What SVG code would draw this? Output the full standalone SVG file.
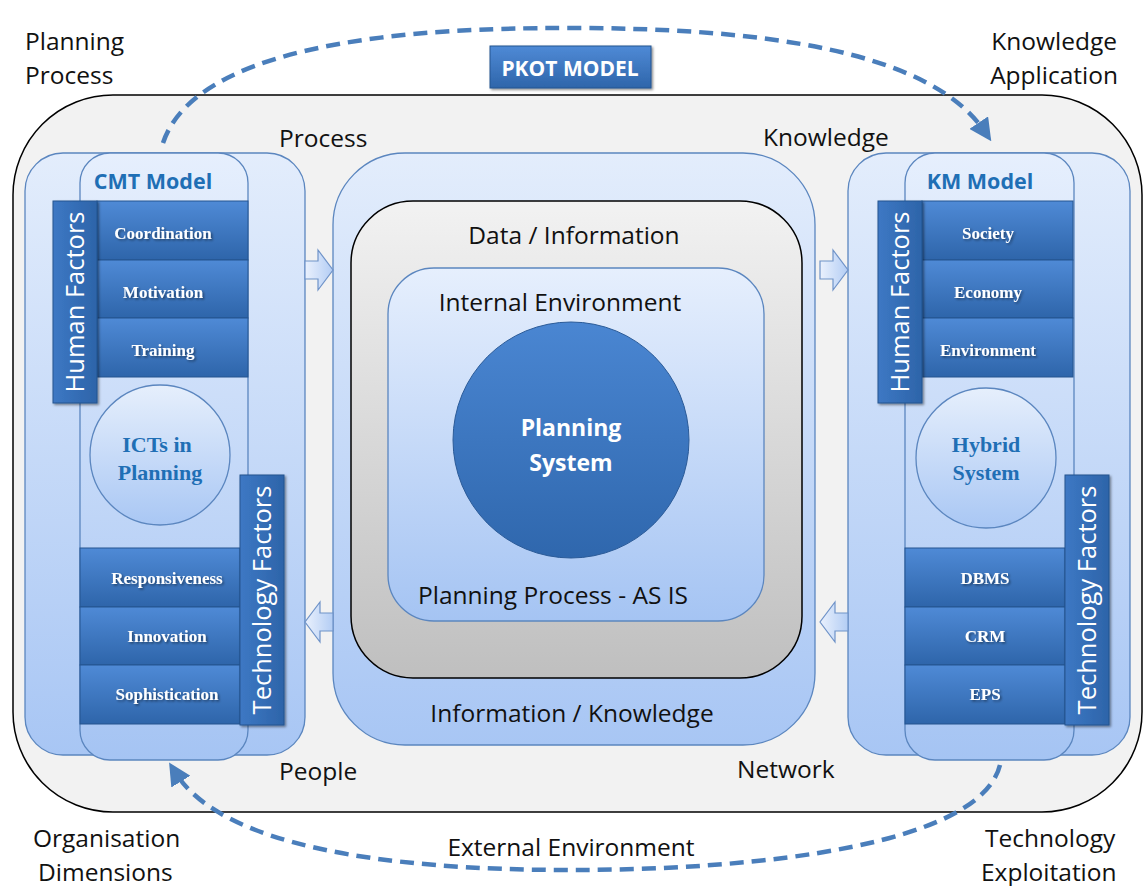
<svg xmlns="http://www.w3.org/2000/svg" width="1145" height="886" viewBox="0 0 1145 886">
<defs>
<linearGradient id="gPanel" x1="0" y1="0" x2="0" y2="1"><stop offset="0" stop-color="#e3edfc"/><stop offset="1" stop-color="#a8c6f4"/></linearGradient>
<linearGradient id="gInner" x1="0" y1="0" x2="0" y2="1"><stop offset="0" stop-color="#e6effd"/><stop offset="1" stop-color="#a5c4f3"/></linearGradient>
<linearGradient id="gGray" x1="0" y1="0" x2="0" y2="1"><stop offset="0" stop-color="#f2f2f2"/><stop offset="1" stop-color="#bfbfbf"/></linearGradient>
<linearGradient id="gBar" x1="0" y1="0" x2="0" y2="1"><stop offset="0" stop-color="#4f8ad6"/><stop offset="1" stop-color="#2e65aa"/></linearGradient>
<linearGradient id="gBarV" x1="0" y1="0" x2="1" y2="0"><stop offset="0" stop-color="#3d78c4"/><stop offset="1" stop-color="#2d64a9"/></linearGradient>
<linearGradient id="gCircle" x1="0" y1="0" x2="0" y2="1"><stop offset="0" stop-color="#4a86d2"/><stop offset="1" stop-color="#2f67ad"/></linearGradient>
<linearGradient id="gSmall" x1="0" y1="0" x2="0" y2="1"><stop offset="0" stop-color="#e6effc"/><stop offset="1" stop-color="#a9c7f4"/></linearGradient>
<linearGradient id="gArrow" x1="0" y1="0" x2="1" y2="0"><stop offset="0" stop-color="#eaf1fd"/><stop offset="1" stop-color="#b3cdf4"/></linearGradient>
<filter id="sh" x="-10%" y="-10%" width="130%" height="130%"><feDropShadow dx="1.5" dy="1.5" stdDeviation="1.2" flood-color="#000" flood-opacity="0.45"/></filter>
<marker id="ah" viewBox="0 0 10 10" refX="5" refY="5" markerWidth="5" markerHeight="5" orient="auto"><path d="M0,0 L10,5 L0,10 z" fill="#4a7ebb"/></marker>
</defs>
<style>
.lbl{font-family:"Open Sans","Liberation Sans",sans-serif;font-size:24.5px;fill:#111}
.row{font-family:"Liberation Serif",serif;font-weight:bold;font-size:17px;fill:#fff;text-anchor:middle;filter:url(#sh)}
.vert{font-family:"Open Sans","Liberation Sans",sans-serif;font-size:25.5px;fill:#fff;text-anchor:middle}
.model{font-family:"Open Sans","Liberation Sans",sans-serif;font-weight:bold;font-size:21.5px;fill:#1f6fb5;text-anchor:middle}
.circ{font-family:"Liberation Serif",serif;font-weight:bold;font-size:22px;fill:#1f6fb5;text-anchor:middle}
.panel{stroke:#5b86bf;stroke-width:1.3}
.bar{fill:url(#gBar);stroke:#24548f;stroke-width:1}
.vbar{fill:url(#gBarV);stroke:#24548f;stroke-width:1;filter:url(#sh)}
.dash{fill:none;stroke:#4a7ebb;stroke-width:4.5;stroke-dasharray:14 8}
.arr{fill:url(#gArrow);stroke:#6f93c8;stroke-width:1.2}
</style>

<!-- outer boundary -->
<g id="outer">
<rect x="13" y="95" width="1129" height="717" rx="100" fill="#f2f2f2" stroke="#000" stroke-width="1.5"/>
</g>

<!-- left panel -->
<g id="left-panel">
<rect class="panel" x="25" y="153" width="280" height="602" rx="38" fill="url(#gPanel)"/>
<rect class="panel" x="80" y="153" width="168" height="607" rx="30" fill="url(#gInner)"/>
<text class="model" x="153" y="189">CMT Model</text>
</g>
<g id="left-human">
<rect class="bar" x="97" y="201" width="151" height="59"/>
<rect class="bar" x="97" y="260" width="151" height="58"/>
<rect class="bar" x="97" y="318" width="151" height="59"/>
<text class="row" x="163" y="239">Coordination</text>
<text class="row" x="163" y="298">Motivation</text>
<text class="row" x="163" y="356">Training</text>
<rect class="vbar" x="53" y="201" width="44" height="202"/>
<text class="vert" transform="translate(84,302) rotate(-90)">Human Factors</text>
</g>
<g id="left-ict">
<circle cx="160" cy="455" r="70" fill="url(#gSmall)" stroke="#5b86bf" stroke-width="1.3"/>
<text class="circ" x="157" y="452">ICTs in</text>
<text class="circ" x="160" y="480">Planning</text>
</g>
<g id="left-tech">
<rect class="bar" x="80" y="548" width="160" height="59"/>
<rect class="bar" x="80" y="607" width="160" height="58"/>
<rect class="bar" x="80" y="665" width="160" height="59"/>
<text class="row" x="167" y="584">Responsiveness</text>
<text class="row" x="167" y="642">Innovation</text>
<text class="row" x="167" y="700">Sophistication</text>
<rect class="vbar" x="240" y="475" width="44" height="250"/>
<text class="vert" transform="translate(271,600) rotate(-90)">Technology Factors</text>
</g>

<!-- center panel -->
<g id="center-panel">
<rect class="panel" x="333" y="153" width="482" height="592" rx="72" fill="url(#gPanel)"/>
<text class="lbl" x="572" y="722" text-anchor="middle">Information / Knowledge</text>
</g>
<g id="data-info">
<rect x="351" y="201" width="451" height="477" rx="62" fill="url(#gGray)" stroke="#000" stroke-width="1.5"/>
<text class="lbl" x="574" y="244" text-anchor="middle" font-size="26">Data / Information</text>
</g>
<g id="internal-env">
<rect x="388" y="268" width="376" height="353" rx="46" fill="url(#gInner)" stroke="#5b86bf" stroke-width="1.3"/>
<text class="lbl" x="560" y="311" text-anchor="middle">Internal Environment</text>
<text class="lbl" x="553" y="604" text-anchor="middle">Planning Process - AS IS</text>
</g>
<g id="planning-system">
<circle cx="571" cy="440" r="118" fill="url(#gCircle)" stroke="#2b5b98" stroke-width="1"/>
<text x="571" y="436" text-anchor="middle" font-family="Open Sans, Liberation Sans, sans-serif" font-weight="bold" font-size="23" fill="#fff">Planning</text>
<text x="571" y="471" text-anchor="middle" font-family="Open Sans, Liberation Sans, sans-serif" font-weight="bold" font-size="23" fill="#fff">System</text>
</g>

<!-- right panel -->
<g id="right-panel">
<rect class="panel" x="848" y="153" width="282" height="602" rx="38" fill="url(#gPanel)"/>
<rect class="panel" x="905" y="153" width="169" height="607" rx="30" fill="url(#gInner)"/>
<text class="model" x="980" y="189">KM Model</text>
</g>
<g id="right-human">
<rect class="bar" x="922" y="201" width="151" height="59"/>
<rect class="bar" x="922" y="260" width="151" height="58"/>
<rect class="bar" x="922" y="318" width="151" height="59"/>
<text class="row" x="988" y="239">Society</text>
<text class="row" x="988" y="298">Economy</text>
<text class="row" x="988" y="356">Environment</text>
<rect class="vbar" x="878" y="201" width="44" height="202"/>
<text class="vert" transform="translate(909,302) rotate(-90)">Human Factors</text>
</g>
<g id="right-hybrid">
<circle cx="986" cy="458" r="70" fill="url(#gSmall)" stroke="#5b86bf" stroke-width="1.3"/>
<text class="circ" x="986" y="452">Hybrid</text>
<text class="circ" x="986" y="480">System</text>
</g>
<g id="right-tech">
<rect class="bar" x="905" y="548" width="160" height="59"/>
<rect class="bar" x="905" y="607" width="160" height="58"/>
<rect class="bar" x="905" y="665" width="160" height="59"/>
<text class="row" x="985" y="584">DBMS</text>
<text class="row" x="985" y="642">CRM</text>
<text class="row" x="985" y="700">EPS</text>
<rect class="vbar" x="1065" y="475" width="44" height="250"/>
<text class="vert" transform="translate(1096,600) rotate(-90)">Technology Factors</text>
</g>

<!-- title -->
<g id="title">
<rect x="490" y="46" width="161" height="42" fill="url(#gBar)" stroke="#24548f" filter="url(#sh)"/>
<text x="570" y="76" text-anchor="middle" font-family="Open Sans, Liberation Sans, sans-serif" font-weight="bold" font-size="21" fill="#fff">PKOT MODEL</text>
</g>

<!-- outside labels -->
<g id="labels">
<text class="lbl" x="25" y="50">Planning</text>
<text class="lbl" x="25" y="84">Process</text>
<text class="lbl" x="1117" y="50" text-anchor="end">Knowledge</text>
<text class="lbl" x="1118" y="84" text-anchor="end">Application</text>
<text class="lbl" x="279" y="147">Process</text>
<text class="lbl" x="763" y="146">Knowledge</text>
<text class="lbl" x="279" y="780">People</text>
<text class="lbl" x="737" y="778">Network</text>
<text class="lbl" x="33" y="847">Organisation</text>
<text class="lbl" x="38" y="881">Dimensions</text>
<text class="lbl" x="985" y="847">Technology</text>
<text class="lbl" x="981" y="881">Exploitation</text>
<text class="lbl" x="571" y="856" text-anchor="middle">External Environment</text>
</g>

<!-- connectors -->
<g id="connectors">
<path class="dash" d="M163,143 C200,32 460,28 570,28 C760,28 930,50 985,132" marker-end="url(#ah)"/>
<path class="dash" d="M1000,765 C980,845 760,870 570,870 C380,870 220,845 175,772" marker-end="url(#ah)"/>
<path class="arr" d="M305,261 L318,261 L318,250 L333,270 L318,290 L318,279 L305,279 z"/>
<path class="arr" d="M820,261 L833,261 L833,250 L848,270 L833,290 L833,279 L820,279 z"/>
<path class="arr" d="M333,613 L320,613 L320,602 L305,622 L320,642 L320,631 L333,631 z"/>
<path class="arr" d="M848,613 L835,613 L835,602 L820,622 L835,642 L835,631 L848,631 z"/>
</g>
</svg>
